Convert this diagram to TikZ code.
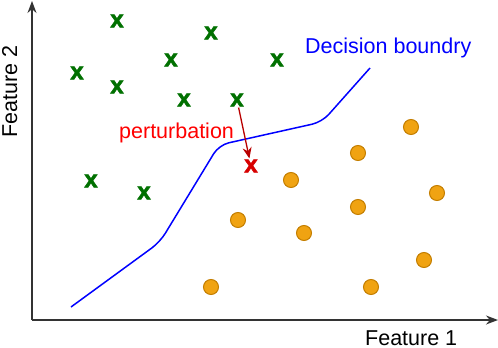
\documentclass[tikz,border=0pt]{standalone}
\usepackage{fontspec}
\setmainfont{Liberation Sans}
\newfontfamily\crossfont{Liberation Sans Bold}[FakeBold=2.5]
\usetikzlibrary{arrows.meta}
\definecolor{xgreen}{RGB}{0,112,0}
\definecolor{xred}{RGB}{215,0,0}
\definecolor{arrowred}{RGB}{185,0,0}
\definecolor{dotfill}{RGB}{240,163,18}
\definecolor{dotdraw}{RGB}{196,126,0}

\begin{document}
\begin{tikzpicture}[
  x=1pt, y=-1pt,
  every node/.style={font=\fontsize{21.5}{26}\selectfont, inner sep=0pt},
  axis/.style={-{Stealth[length=12pt,width=9pt]}, line width=1.4pt, draw=black!80},
  cross/.style={font=\fontsize{24}{26}\crossfont, text=xgreen, inner sep=1pt},
  dot/.style={circle, minimum size=15pt, fill=dotfill, draw=dotdraw, line width=1pt},
  boundary/.style={draw=blue, line width=1.5pt, rounded corners=10pt},
  pert/.style={-{Stealth[length=11pt,width=9pt]}, line width=1.3pt, draw=arrowred}
]
\useasboundingbox (0,0) rectangle (498,348);

% axes
\coordinate (origin) at (32,320);
\coordinate (xend) at (498,320);
\coordinate (yend) at (32,1);
\draw[axis] (origin) -- (xend);
\draw[axis] (origin) -- (yend);
\node[anchor=base west] (xlabel) at (365,345) {Feature 1};
\node[anchor=base west, rotate=90] (ylabel) at (17,138) {Feature 2};

% class 1
\node[cross] (g1) at (117,21) {x};
\node[cross] (g2) at (211,33) {x};
\node[cross] (g3) at (171,60) {x};
\node[cross] (g4) at (277,60) {x};
\node[cross] (g5) at (77,73) {x};
\node[cross] (g6) at (117,87) {x};
\node[cross] (g7) at (184,100) {x};
\node[cross] (g8) at (237,100) {x};
\node[cross] (g9) at (91,181) {x};
\node[cross] (g10) at (144,193) {x};

% class 2
\node[dot] (o1) at (411,127) {};
\node[dot] (o2) at (358,153) {};
\node[dot] (o3) at (291,180) {};
\node[dot] (o4) at (437,193) {};
\node[dot] (o5) at (358,207) {};
\node[dot] (o6) at (238,220) {};
\node[dot] (o7) at (304,233) {};
\node[dot] (o8) at (424,260) {};
\node[dot] (o9) at (211,287) {};
\node[dot] (o10) at (371,287) {};

% boundary
\draw[boundary] (71,307) -- (160,242) -- (219,145) -- (322,122) -- (370,68);
\node[anchor=base west, text=blue] (blabel) at (305,53) {Decision boundry};

% adversarial point
\node[cross, text=xred] (adv) at (251,166) {x};
\draw[pert] (g8) -- (adv);
\node[anchor=base west, text=red] (plabel) at (119,138) {perturbation};
\end{tikzpicture}
\end{document}
